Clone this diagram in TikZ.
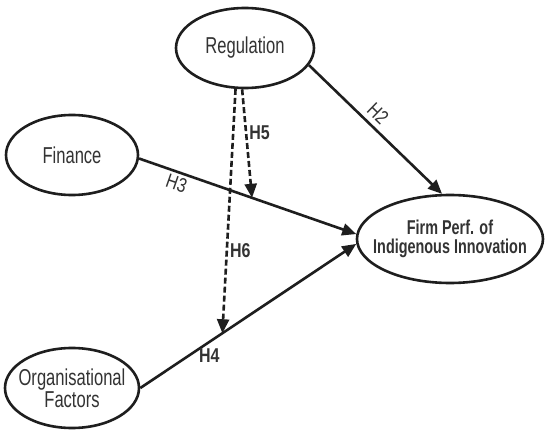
\documentclass[tikz,border=0pt]{standalone}
\usepackage{fontspec}
\newfontfamily\diafont[FakeStretch=0.72]{Liberation Sans}
\newfontfamily\hypfont[FakeStretch=0.8]{Liberation Sans}
\usetikzlibrary{arrows.meta,calc,shapes.geometric}
\definecolor{cLine}{HTML}{1E1E1E}
\definecolor{cText}{HTML}{333333}
\tikzset{
  construct/.style={ellipse, draw=cLine, line width=2.6pt, inner sep=0pt},
  ctext/.style={align=center, text=cText, inner sep=0pt,
                font=\diafont\fontsize{23}{20}\selectfont},
  cbold/.style={ctext, font=\diafont\bfseries\fontsize{20}{19}\selectfont},
  hyp/.style   ={-{Triangle[length=14pt, width=12pt]}, line width=2.6pt, draw=cLine},
  hypmod/.style={hyp, dash pattern=on 6pt off 3pt},
  hlabel/.style={font=\hypfont\fontsize{20}{20}\selectfont, text=cText, inner sep=2pt},
  hbold/.style ={hlabel, font=\hypfont\bfseries\fontsize{20}{20}\selectfont}
}

\begin{document}
\begin{tikzpicture}[x=1pt, y=-1pt]
    \fill[white] (0,0) rectangle (550,436);
    \useasboundingbox (0,0) rectangle (550,436);
    % constructs
    \node[construct, minimum width=138pt, minimum height=80pt,
          label={[ctext]center:Regulation}] (reg) at (245,48) {};
    \node[construct, minimum width=132pt, minimum height=80pt,
          label={[ctext]center:Finance}] (fin) at (72,155) {};
    \node[construct, minimum width=134pt, minimum height=80pt,
          label={[ctext]center:{Organisational\\Factors}}] (org) at (72,388) {};
    \node[construct, minimum width=186pt, minimum height=88pt,
          label={[cbold]center:{Firm Perf. of\\Indigenous Innovation}}] (firm) at (450,239) {};

    % direct effects
    \draw[hyp] (reg.-15) -- node[hlabel, pos=0.45, sloped, above=3pt] {H2} (firm.100);
    \draw[hyp] (fin.-3) -- node[hlabel, pos=0.19, sloped, below=1pt] {H3} (firm.177);
    \draw[hyp] (org.0) -- node[hbold, pos=0.32, below=4pt] {H4} (firm.183);

    % moderating effects
    \coordinate (m5) at ($(fin.-3)!0.52!(firm.177)$);
    \coordinate (m6) at ($(org.0)!0.38!(firm.183)$);
    \draw[hypmod] (reg.-94) -- node[hbold, pos=0.4, right] {H5} (m5);
    \draw[hypmod] (reg.-103) -- node[hbold, pos=0.66, right] {H6} (m6);
\end{tikzpicture}
\end{document}
